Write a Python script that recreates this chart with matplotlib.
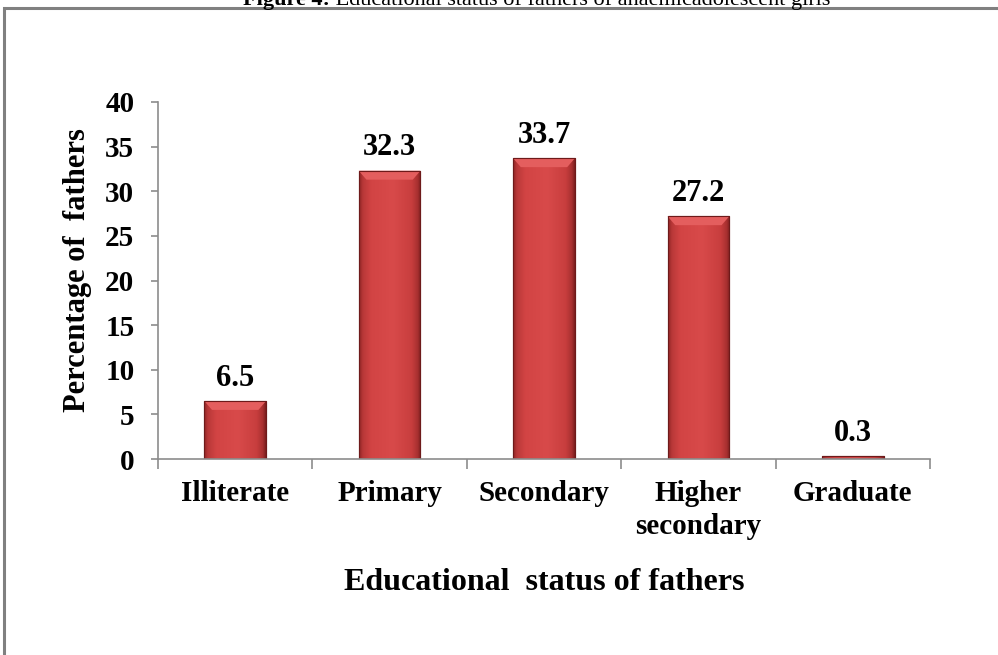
import matplotlib
matplotlib.use("Agg")
import matplotlib.pyplot as plt
import numpy as np
from matplotlib.patches import Rectangle, Polygon
from matplotlib.colors import LinearSegmentedColormap

categories = ["Illiterate", "Primary", "Secondary", "Higher\nsecondary", "Graduate"]
values = [6.5, 32.3, 33.7, 27.2, 0.3]
yticks = [0, 5, 10, 15, 20, 25, 30, 35, 40]

plt.rcParams['font.family'] = ['Liberation Serif', 'DejaVu Serif']

W, H = 998, 655
fig = plt.figure(figsize=(W/100, H/100), dpi=100)

# border box (cut at right/bottom)
fig.patches.append(Rectangle((4/W, -0.05), 1.1, 1 - 8/H + 0.05, transform=fig.transFigure,
                             fill=False, edgecolor='#808080', linewidth=2.2))

# cut-off title at top: bold "Figure 4:" + regular rest
t1 = fig.text(0, 1 - 5/H, "Figure 4:", ha='left', va='baseline', fontsize=16, fontweight='bold')
t2 = fig.text(0, 1 - 5/H, " Educational status of fathers of anaemicadolescent girls",
              ha='left', va='baseline', fontsize=16)
r = fig.canvas.get_renderer()
w1 = t1.get_window_extent(r).width
w2 = t2.get_window_extent(r).width
x0 = 537 - (w1 + w2) / 2
t1.set_x(x0 / W)
t2.set_x((x0 + w1) / W)

ax = fig.add_axes([158/W, 1 - 459/H, (930-158)/W, (459-102)/H])
ax.set_xlim(-0.5, len(categories) - 0.5)
ax.set_ylim(0, 40)

cmap = LinearSegmentedColormap.from_list("bar", [
    (0.0, "#8E2424"), (0.06, "#B83838"), (0.2, "#D24444"), (0.55, "#D84A4A"),
    (0.85, "#C83E3E"), (0.95, "#A83030"), (1.0, "#7A1E1E")])
grad = np.linspace(0, 1, 256).reshape(1, -1)
bw = 0.4
bars = ax.bar(range(len(values)), values, width=bw, color='#D04444', edgecolor='#7A1E1E',
              linewidth=0.8, zorder=2)
for b, v in zip(bars, values):
    x = b.get_x()
    im = ax.imshow(grad, cmap=cmap, aspect='auto', extent=[x, x + bw, 0, v],
                   zorder=2.1, interpolation='bicubic')
    im.set_clip_path(b)
    bev = min(1.0, v * 0.3)
    if v > 2:
        poly = Polygon([[x, v], [x + bw, v], [x + bw - 0.05, v - bev], [x + 0.05, v - bev]],
                       closed=True, facecolor='#E45E5E', edgecolor='none', zorder=2.2)
        ax.add_patch(poly)
    ax.add_patch(Rectangle((x, 0), bw, v, fill=False, edgecolor='#6E1A1A', linewidth=0.8, zorder=2.3))
    ax.annotate(f"{v}", (b.get_x() + bw / 2, v), xytext=(0, 6), textcoords='offset points',
                ha='center', va='bottom', fontsize=22, fontweight='bold')

ax.set_xlim(-0.5, len(categories) - 0.5)
ax.set_ylim(0, 40)
ax.set_yticks(yticks)
ax.set_yticklabels([str(t) for t in yticks], fontsize=21, fontweight='bold')
ax.set_xticks([i + 0.5 for i in range(-1, len(categories))])
ax.set_xticklabels([])
ax.tick_params(axis='x', length=7, color='#8C8C8C', width=1.2)
ax.tick_params(axis='y', length=5, color='#8C8C8C', width=1.2, pad=12)
for i, c in enumerate(categories):
    ax.text(i, -2.4, c, ha='center', va='top', fontsize=21, fontweight='bold',
            linespacing=1.25)

for s in ['top', 'right']:
    ax.spines[s].set_visible(False)
for s in ['left', 'bottom']:
    ax.spines[s].set_color('#8C8C8C')
    ax.spines[s].set_linewidth(1.2)

fig.text(78/W, 1 - 270/H, "Percentage of  fathers", rotation=90, ha='center', va='center',
         fontsize=22, fontweight='bold')
fig.text(544/W, 1 - 582/H, "Educational  status of fathers", ha='center', va='center',
         fontsize=23, fontweight='bold')

fig.savefig("out.png", dpi=100)
